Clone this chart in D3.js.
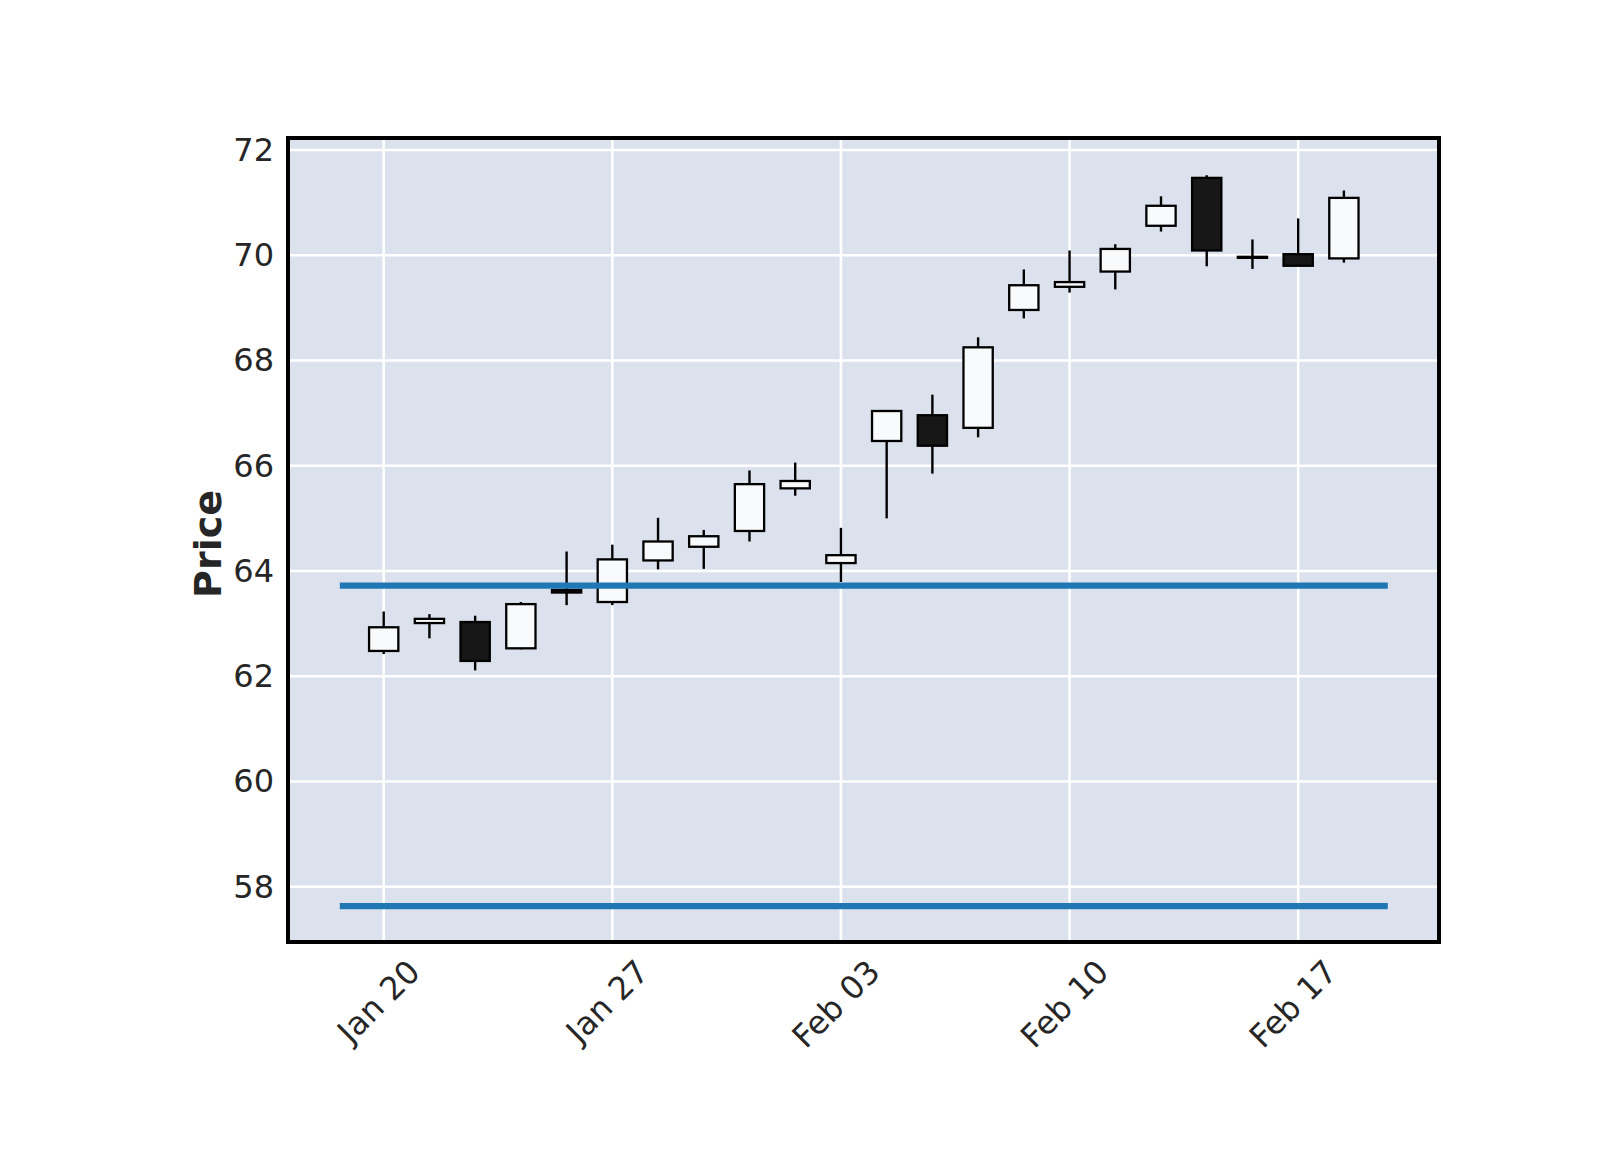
<!DOCTYPE html>
<html>
<head>
<meta charset="utf-8">
<script src="https://cdn.jsdelivr.net/npm/d3@7/dist/d3.min.js"></script>
<style>
  html, body { margin: 0; padding: 0; background: #ffffff; }
  svg { display: block; }
  text { font-family: "DejaVu Sans", sans-serif; }
</style>
</head>
<body>
<svg id="chart" width="1600" height="1150"></svg>
<script>
// ---------- data ----------
const dates = ["2020-01-20","2020-01-21","2020-01-22","2020-01-23","2020-01-24",
               "2020-01-27","2020-01-28","2020-01-29","2020-01-30","2020-01-31",
               "2020-02-03","2020-02-04","2020-02-05","2020-02-06","2020-02-07",
               "2020-02-10","2020-02-11","2020-02-12","2020-02-13","2020-02-14",
               "2020-02-17","2020-02-18"];
const opens  = [62.48,63.01,63.03,62.53,63.64,63.41,64.20,64.46,64.76,65.57,64.15,
                66.47,66.96,66.72,68.96,69.40,69.69,70.56,71.47,69.97,70.02,69.94];
const highs  = [63.23,63.18,63.15,63.41,64.37,64.50,65.01,64.78,65.91,66.06,64.82,
                67.05,67.35,68.44,69.73,70.09,70.21,71.12,71.52,70.30,70.70,71.23];
const lows   = [62.42,62.72,62.11,62.51,63.35,63.35,64.03,64.04,64.56,65.43,63.79,
                65.00,65.85,66.54,68.80,69.29,69.35,70.45,69.79,69.74,69.80,69.86];
const closes = [62.93,63.09,62.29,63.37,63.59,64.22,64.56,64.66,65.65,65.71,64.30,
                67.04,66.38,68.25,69.43,69.49,70.12,70.94,70.09,69.95,69.80,71.09];
const hlineValues = [63.72, 57.63];
const hlineSpan = [-0.96, 21.96];          // in bar-index units
const xTickIndex  = [0, 5, 10, 15, 20];
const xTickLabels = ["Jan 20", "Jan 27", "Feb 03", "Feb 10", "Feb 17"];
const yTicks = [58, 60, 62, 64, 66, 68, 70, 72];
const yLabel = "Price";

// ---------- layout ----------
const svg = d3.select("#chart");
const L = 288, R = 1439, T = 138, B = 942;
const x = d3.scaleLinear().domain([-2.093, 23.08]).range([L, R]);
const y = d3.scaleLinear().domain([56.949, 72.228]).range([B, T]);
const textColor = "#262626";

// background
svg.append("rect").attr("x", L).attr("y", T).attr("width", R - L).attr("height", B - T)
   .attr("fill", "#dce2ed");

// gridlines
const grid = svg.append("g");
grid.selectAll("line.gy").data(yTicks).join("line")
  .attr("x1", L).attr("x2", R)
  .attr("y1", d => y(d)).attr("y2", d => y(d))
  .attr("stroke", "#ffffff").attr("stroke-width", 2.5);
grid.selectAll("line.gx").data(xTickIndex).join("line")
  .attr("y1", T).attr("y2", B)
  .attr("x1", d => x(d)).attr("x2", d => x(d))
  .attr("stroke", "#ffffff").attr("stroke-width", 2.5);

// candles
const data = dates.map((d, i) => ({ i, o: opens[i], h: highs[i], l: lows[i], c: closes[i] }));
const step = x(1) - x(0);
const bw = step * 0.64;
const cg = svg.append("g");
cg.selectAll("line.wick").data(data).join("line")
  .attr("x1", d => x(d.i)).attr("x2", d => x(d.i))
  .attr("y1", d => y(d.h)).attr("y2", d => y(d.l))
  .attr("stroke", "#000").attr("stroke-width", 2.4);
cg.selectAll("rect.body").data(data).join("rect")
  .attr("x", d => x(d.i) - bw / 2)
  .attr("width", bw)
  .attr("y", d => y(Math.max(d.o, d.c)))
  .attr("height", d => Math.max(0.5, Math.abs(y(d.o) - y(d.c))))
  .attr("fill", d => d.c >= d.o ? "#f9fafc" : "#171717")
  .attr("stroke", "#000").attr("stroke-width", 2.3);

// horizontal lines
svg.append("g").selectAll("line").data(hlineValues).join("line")
  .attr("x1", x(hlineSpan[0])).attr("x2", x(hlineSpan[1]))
  .attr("y1", d => y(d)).attr("y2", d => y(d))
  .attr("stroke", "#1f77b4").attr("stroke-width", 6.2);

// frame
svg.append("rect").attr("x", L).attr("y", T).attr("width", R - L).attr("height", B - T)
   .attr("fill", "none").attr("stroke", "#000").attr("stroke-width", 4);

// y tick labels
svg.append("g").selectAll("text").data(yTicks).join("text")
  .attr("x", 274).attr("y", d => y(d))
  .attr("text-anchor", "end").attr("dominant-baseline", "central")
  .attr("font-size", 32).attr("fill", textColor)
  .text(d => d);

// x tick labels rotated 45
const xl = svg.append("g");
xTickIndex.forEach((idx, k) => {
  const t = xl.append("text")
    .attr("font-size", 32).attr("fill", textColor)
    .attr("text-anchor", "end").attr("dominant-baseline", "central")
    .text(xTickLabels[k]);
  const w = t.node().getComputedTextLength();
  const px = x(idx) - 5 + 0.354 * w;
  const py = 966;
  t.attr("transform", `translate(${px},${py}) rotate(-45)`);
});

// y axis label
svg.append("text")
  .attr("transform", "translate(221,544) rotate(-90)")
  .attr("text-anchor", "middle")
  .attr("font-size", 38).attr("font-weight", "bold").attr("fill", textColor)
  .text(yLabel);
</script>
</body>
</html>
